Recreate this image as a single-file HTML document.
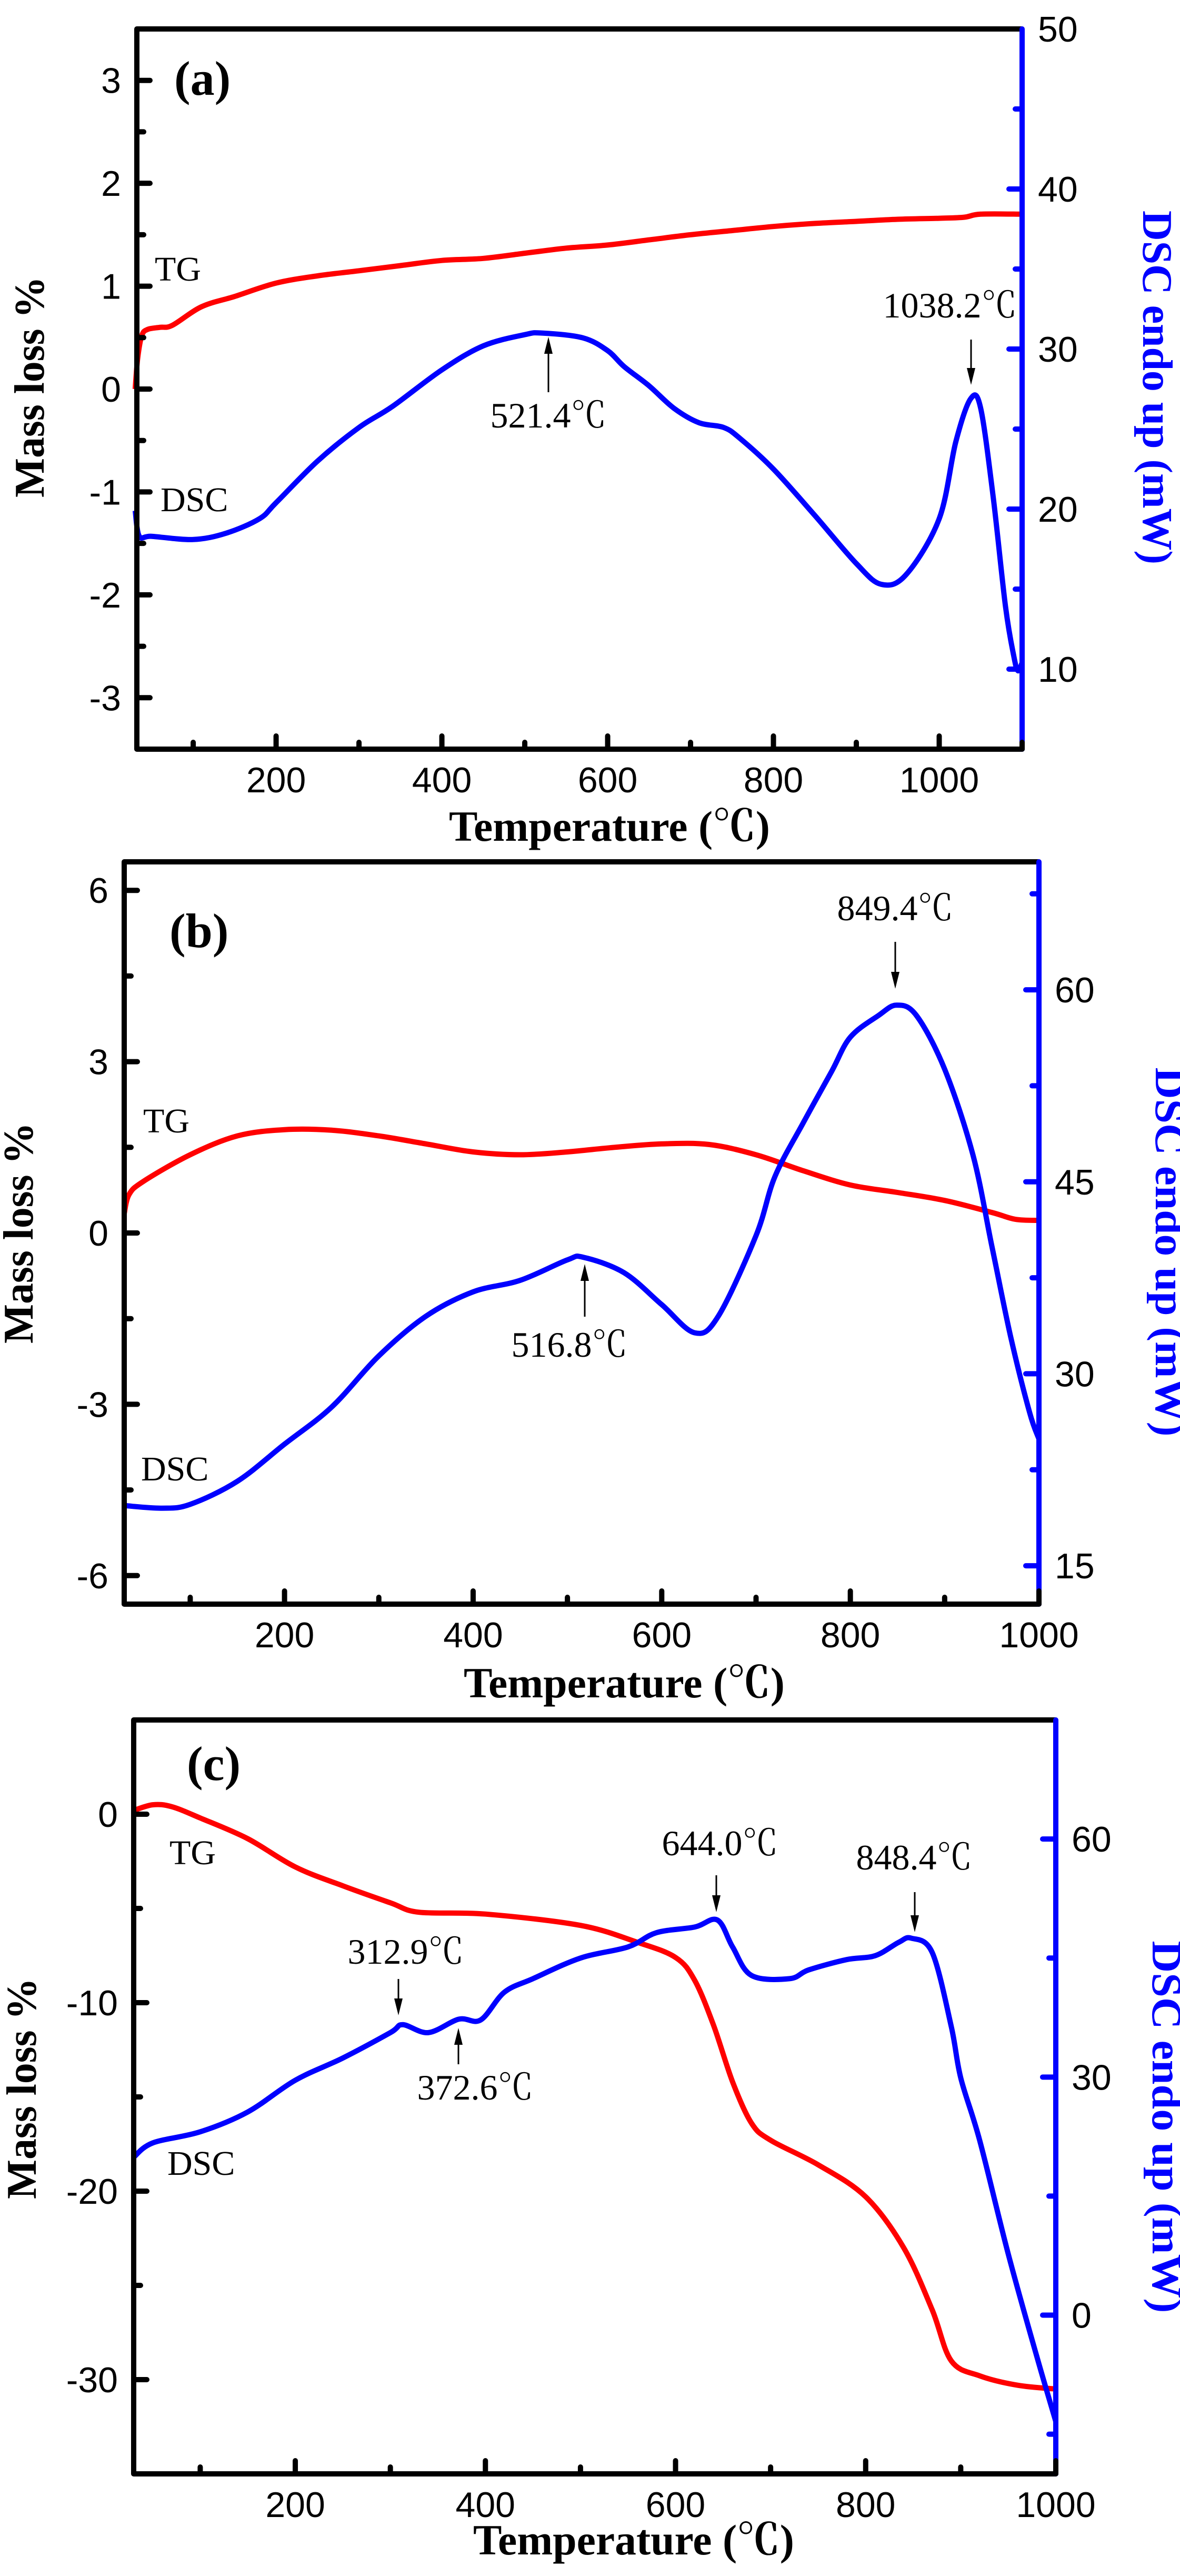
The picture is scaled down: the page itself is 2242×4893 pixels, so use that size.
<!DOCTYPE html>
<html><head><meta charset="utf-8">
<style>
html,body{margin:0;padding:0;background:#fff;}
svg{display:block;}
</style></head>
<body>
<svg id="fig" width="2242" height="4893" viewBox="0 0 2242 4893" xmlns="http://www.w3.org/2000/svg"></svg>
<script>
// ---------- Panel (a) data ----------
const aTgT   = [30,33,38,45,60,75,110,150,200,250,300,350,400,450,500,550,600,650,700,750,800,850,900,950,1000,1030,1050,1100];
const aTgV   = [0,0.3,0.52,0.58,0.6,0.62,0.8,0.9,1.03,1.1,1.15,1.2,1.25,1.27,1.32,1.37,1.4,1.45,1.5,1.54,1.58,1.61,1.63,1.65,1.66,1.67,1.7,1.7];
const aDscT  = [30,35,50,100,140,180,200,250,300,340,400,450,500,521,570,600,620,650,680,710,740,760,800,850,900,930,960,1000,1020,1038,1050,1065,1080,1090,1095,1100];
const aDscV  = [19.9,18.3,18.3,18.1,18.5,19.4,20.4,23.0,25.1,26.4,28.7,30.2,30.9,31.0,30.7,29.9,28.9,27.7,26.3,25.4,25.1,24.4,22.5,19.6,16.6,15.3,15.9,19.4,24.2,26.9,26.3,20.8,13.9,10.8,9.9,10.4];
const aXTicks = [200,400,600,800,1000];
const aLTicks = [3,2,1,0,-1,-2,-3];
const aRTicks = [50,40,30,20,10];

// ---------- Panel (b) data ----------
const bTgT  = [30,35,50,100,150,200,250,300,350,400,450,500,550,600,650,700,750,800,850,900,950,975,1000];
const bTgV  = [0.34,0.67,0.9,1.37,1.7,1.81,1.8,1.7,1.56,1.42,1.37,1.42,1.5,1.56,1.55,1.37,1.09,0.84,0.71,0.57,0.36,0.24,0.22];
const bDscT = [30,70,100,150,200,250,300,350,400,450,500,517,560,600,635,660,700,720,750,780,800,830,849,870,900,930,950,970,990,1000];
const bDscV = [19.7,19.5,19.8,21.6,24.5,27.4,31.4,34.5,36.4,37.3,38.9,39.1,37.9,35.4,33.2,34.5,40.8,45.4,49.6,53.6,56.3,58.0,58.8,58.0,53.8,47.1,40.0,32.9,27.0,24.9];
const bXTicks = [200,400,600,800,1000];
const bLTicks = [6,3,0,-3,-6];
const bRTicks = [60,45,30,15];

// ---------- Panel (c) data ----------
const cTgT  = [30,50,70,100,150,200,250,300,330,400,500,560,600,620,640,660,680,700,750,800,840,870,890,920,960,1000];
const cTgV  = [0.2,0.5,0.4,-0.2,-1.3,-2.8,-3.8,-4.7,-5.2,-5.3,-5.9,-6.8,-7.6,-8.8,-11.2,-14.2,-16.4,-17.3,-18.6,-20.3,-23.0,-26.3,-29.0,-29.8,-30.3,-30.5];
const cDscT = [30,50,100,150,200,250,300,313,340,372,395,420,450,500,550,580,620,644,660,680,720,740,780,810,835,848,870,890,900,920,950,980,1000];
const cDscV = [19.9,21.7,23.1,25.6,29.6,32.4,35.6,36.6,35.6,37.3,37.2,40.7,42.4,45.0,46.4,48.2,48.9,49.8,46.4,42.8,42.4,43.5,44.8,45.3,47.0,47.5,45.7,36.4,29.9,22.0,7.7,-5.2,-13.4];
const cXTicks = [200,400,600,800,1000];
const cLTicks = [0,-10,-20,-30];
const cRTicks = [60,30,0];

const NS = 'http://www.w3.org/2000/svg';
const svg = document.getElementById('fig');
const SERIF = '"Liberation Serif","Noto Serif CJK SC",serif';
const SANS = '"Liberation Sans",sans-serif';

function mk(tag, attrs, parent, text){
  const e = document.createElementNS(NS, tag);
  for (const k in attrs) e.setAttribute(k, attrs[k]);
  if (text !== undefined) e.textContent = text;
  (parent || svg).appendChild(e);
  return e;
}
function smoothPath(pts){
  let d = 'M' + pts[0][0].toFixed(1) + ' ' + pts[0][1].toFixed(1);
  for (let i = 0; i < pts.length - 1; i++){
    const p0 = pts[Math.max(0,i-1)], p1 = pts[i], p2 = pts[i+1], p3 = pts[Math.min(pts.length-1,i+2)];
    const c1x = p1[0] + (p2[0]-p0[0])/6, c1y = p1[1] + (p2[1]-p0[1])/6;
    const c2x = p2[0] - (p3[0]-p1[0])/6, c2y = p2[1] - (p3[1]-p1[1])/6;
    d += ' C' + c1x.toFixed(1)+' '+c1y.toFixed(1)+' '+c2x.toFixed(1)+' '+c2y.toFixed(1)+' '+p2[0].toFixed(1)+' '+p2[1].toFixed(1);
  }
  return d;
}

function panel(c){
  const g = mk('g', {});
  
  
  const X = t => c.L + (t - c.xMin) / (c.xMax - c.xMin) * (c.R - c.L);
  const YL = v => c.B - (v - c.lMin) / (c.lMax - c.lMin) * (c.B - c.T);
  const YR = v => c.B - (v - c.rMin) / (c.rMax - c.rMin) * (c.B - c.T);

  const tg = mk('path', {d: smoothPath(c.tgT.map((t,i)=>[X(t), YL(c.tgV[i])])), fill:'none', stroke:'#ff0000', 'stroke-width':10, 'stroke-linejoin':'round'}, g);
  
  
  const dsc = mk('path', {d: smoothPath(c.dscT.map((t,i)=>[X(t), YR(c.dscV[i])])), fill:'none', stroke:'#0000ff', 'stroke-width':10, 'stroke-linejoin':'round'}, g);
  
  

  const fr = mk('path', {d:`M${c.R} ${c.T} L${c.L} ${c.T} L${c.L} ${c.B} L${c.R} ${c.B}`, fill:'none', stroke:'#000', 'stroke-width':10, 'stroke-linejoin':'round'}, g);
  
  
  const ra = mk('line', {x1:c.R, y1:c.T, x2:c.R, y2:c.B, stroke:'#0000ff', 'stroke-width':10, 'stroke-linecap':'round'}, g);
  
  

  for (let t = 100; t <= c.xMax; t += 100){
    if (t < c.xMin) continue;
    const major = c.xTicks.includes(t);
    const tk = mk('line', {x1:X(t), y1:c.B, x2:X(t), y2:c.B-(major?25:13), stroke:'#000', 'stroke-width':10, 'stroke-linecap':'round'}, g);
    
    
  }
  c.xTicks.forEach(t=>{
    const lb = mk('text', {x:X(t), y:c.B+82, 'font-family':SANS, 'font-size':68, 'text-anchor':'middle'}, g, String(t));
    
    
  });
  const lStep = c.lTicks[0]-c.lTicks[1];
  for (let v = c.lTicks[c.lTicks.length-1]; v <= c.lTicks[0]+1e-9; v += lStep/2){
    const y = YL(v); if (y < c.T+5 || y > c.B-5) continue;
    const major = Math.abs(Math.round((v - c.lTicks[0])/lStep) - (v - c.lTicks[0])/lStep) < 1e-6;
    const tk = mk('line', {x1:c.L, y1:y, x2:c.L+(major?25:13), y2:y, stroke:'#000', 'stroke-width':10, 'stroke-linecap':'round'}, g);
    
    
  }
  c.lTicks.forEach(v=>{
    const lb = mk('text', {x:c.L-30, y:YL(v)+24, 'font-family':SANS, 'font-size':68, 'text-anchor':'end'}, g, String(v));
    
    
  });
  const rStep = c.rTicks[0]-c.rTicks[1];
  for (let v = c.rTicks[c.rTicks.length-1] - rStep; v <= c.rMax + 1e-9; v += rStep/2){
    const y = YR(v); if (y < c.T+5 || y > c.B-5) continue;
    const major = Math.abs(Math.round((v - c.rTicks[0])/rStep) - (v - c.rTicks[0])/rStep) < 1e-6;
    const tk = mk('line', {x1:c.R, y1:y, x2:c.R-(major?25:13), y2:y, stroke:'#0000ff', 'stroke-width':10, 'stroke-linecap':'round'}, g);
    
    
  }
  c.rTicks.forEach(v=>{
    const lb = mk('text', {x:c.R+30, y:YR(v)+24, 'font-family':SANS, 'font-size':68, 'text-anchor':'start'}, g, String(v));
    
    
  });

  const xt = mk('text', {x:c.xtX, y:c.xtY, 'font-family':SERIF, 'font-size':82, 'font-weight':'bold', 'text-anchor':'middle', textLength:610, lengthAdjust:'spacingAndGlyphs'}, g, 'Temperature (℃)');
  
  
  const lt = mk('text', {x:0, y:0, 'font-family':SERIF, 'font-size':80, 'font-weight':'bold', 'text-anchor':'middle', transform:`translate(${c.ltX} ${c.ltY}) rotate(-90)`, textLength:420, lengthAdjust:'spacingAndGlyphs'}, g, 'Mass loss %');
  
  
  const rt = mk('text', {x:0, y:0, fill:'#0000ff', 'font-family':SERIF, 'font-size':80, 'font-weight':'bold', 'text-anchor':'middle', transform:`translate(${c.rtX} ${c.rtY}) rotate(90)`, textLength:c.rtLen, lengthAdjust:'spacingAndGlyphs'}, g, 'DSC endo up (mW)');
  
  

  const pl = mk('text', {x:c.plX, y:c.plY, 'font-family':SERIF, 'font-size':92, 'font-weight':'bold'}, g, '(' + c.id + ')');
  
  
  const tgl = mk('text', {x:c.tgLab[0], y:c.tgLab[1], 'font-family':SERIF, 'font-size':66}, g, 'TG');
  
  
  const dl = mk('text', {x:c.dscLab[0], y:c.dscLab[1], 'font-family':SERIF, 'font-size':66}, g, 'DSC');
  
  

  c.notes.forEach(n=>{
    const tx = mk('text', {x:n.tx, y:n.ty, 'font-family':SERIF, 'font-size':68, 'text-anchor':'middle'}, g, n.text);
    
    
    const ar = mk('g', {}, g);
    
    
    const dir = n.y2 > n.y1 ? 1 : -1;
    mk('line', {x1:n.ax, y1:n.y1, x2:n.ax, y2:n.y2 - dir*20, stroke:'#000', 'stroke-width':3}, ar);
    mk('polygon', {points:`${n.ax-8},${n.y2-dir*32} ${n.ax+8},${n.y2-dir*32} ${n.ax},${n.y2}`, fill:'#000'}, ar);
  });
}

panel({id:'a', L:260, R:1942, T:55, B:1423, xMin:32, xMax:1100, lMin:-3.5, lMax:3.5, rMin:5, rMax:50,
  tgT:aTgT, tgV:aTgV, dscT:aDscT, dscV:aDscV, xTicks:aXTicks, lTicks:aLTicks, rTicks:aRTicks,
  xtX:1158, xtY:1597, ltX:83, ltY:735, rtX:2172, rtY:736, rtLen:672, plX:331, plY:180,
  tgLab:[294,533], dscLab:[305,971],
  notes:[{text:'521.4℃', tx:1042, ty:812, ax:1042, y1:745, y2:640},
         {text:'1038.2℃', tx:1805, ty:603, ax:1845, y1:645, y2:731}]});

panel({id:'b', L:236, R:1974, T:1637, B:3047, xMin:30, xMax:1000, lMin:-6.5, lMax:6.5, rMin:12, rMax:70,
  tgT:bTgT, tgV:bTgV, dscT:bDscT, dscV:bDscV, xTicks:bXTicks, lTicks:bLTicks, rTicks:bRTicks,
  xtX:1186, xtY:3224, ltX:62, ltY:2342, rtX:2196, rtY:2378, rtLen:701, plX:322, plY:1799,
  tgLab:[272,2151], dscLab:[268,2812],
  notes:[{text:'849.4℃', tx:1701, ty:1748, ax:1701, y1:1789, y2:1878},
         {text:'516.8℃', tx:1082, ty:2577, ax:1111, y1:2501, y2:2401}]});

panel({id:'c', L:254, R:2006, T:3267, B:4699, xMin:30, xMax:1000, lMin:-35, lMax:5, rMin:-20, rMax:75,
  tgT:cTgT, tgV:cTgV, dscT:cDscT, dscV:cDscV, xTicks:cXTicks, lTicks:cLTicks, rTicks:cRTicks,
  xtX:1204, xtY:4852, ltX:68, ltY:3967, rtX:2190, rtY:4040, rtLen:707, plX:355, plY:3381,
  tgLab:[322,3541], dscLab:[318,4131],
  notes:[{text:'312.9℃', tx:771, ty:3730, ax:757, y1:3759, y2:3828},
         {text:'372.6℃', tx:903, ty:3988, ax:871, y1:3921, y2:3852},
         {text:'644.0℃', tx:1368, ty:3524, ax:1361, y1:3562, y2:3632},
         {text:'848.4℃', tx:1737, ty:3551, ax:1738, y1:3594, y2:3670}]});
</script>
</body></html>
